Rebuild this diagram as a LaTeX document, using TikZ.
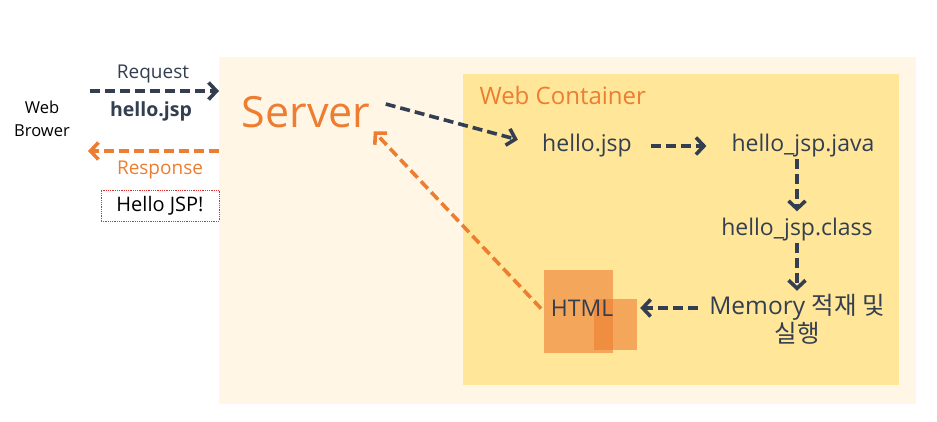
\documentclass[tikz,border=0pt]{standalone}
\usepackage{fontspec}
\setmainfont{Open Sans}
\newfontfamily\kr{Noto Sans CJK KR}
\usetikzlibrary{arrows.meta}
\definecolor{navyline}{RGB}{51,63,80}
\definecolor{orangeline}{RGB}{237,125,49}
\definecolor{serverbg}{RGB}{255,246,229}
\definecolor{containerbg}{RGB}{255,230,153}
\definecolor{dotred}{RGB}{224,48,48}

\begin{document}
\begin{tikzpicture}[
  x=1pt, y=-1pt,
  flow/.style={dash pattern=on 10pt off 5pt, line width=3.6pt, -{Straight Barb[length=8pt,width=17pt]}}, % dashed flow
  darkflow/.style={flow, draw=navyline},
  orangeflow/.style={flow, draw=orangeline},
  label/.style={inner sep=1pt, text=navyline, font=\fontsize{23}{28}\selectfont},
  square/.style={fill=orangeline, fill opacity=0.6, inner sep=0pt},
  every node/.style={align=center}
]
\useasboundingbox (0,0) rectangle (937,421);

% Boxes
\fill[serverbg] (219,57) rectangle (916,404);
\fill[containerbg] (463,74) rectangle (899,385);

% Browser side
\node[font=\fontsize{16.5}{23}\selectfont] (browser) at (42,119) {Web\\Brower};
\coordinate (reqstart) at (90,91);
\coordinate (reqend) at (219,91);
\coordinate (resstart) at (219,151);
\coordinate (resend) at (88,151);
\draw[darkflow] (reqstart) -- (reqend);
\node[text=navyline, font=\fontsize{19}{22}\selectfont] (req) at (153,74) {Request};
\node[text=navyline, font=\fontsize{19.5}{22}\selectfont\bfseries] (reqfile) at (151,111) {hello.jsp};
\draw[orangeflow] (resstart) -- (resend);
\node[text=orangeline, font=\fontsize{19}{22}\selectfont] (res) at (160,170) {Response};
\node[draw=dotred, densely dotted, line width=0.8pt, minimum width=118pt, minimum height=31pt,
  font=\fontsize{20}{22}\selectfont] (hello) at (160,205.5) {Hello JSP!};

% Server
\node[text=orangeline, font=\fontsize{43}{48}\selectfont] (server) at (306,112) {Server};
\node[text=orangeline, font=\fontsize{24}{28}\selectfont, anchor=west] (container) at (476,95) {Web Container};

% HTML squares
\node[square, minimum width=69pt, minimum height=83pt] (bigsq) at (578.5,311.5) {};
\node[square, minimum width=43pt, minimum height=51pt] (smallsq) at (615.5,324.5) {};

% Steps
\node[label] (jsp) at (587,146) {hello.jsp};
\node[label] (java) at (803,146) {hello\_jsp.java};
\node[label] (class) at (797,230) {hello\_jsp.class};
\node[label, font=\fontsize{24.5}{28}\selectfont] (memory) at (797,319) {Memory {\kr 적재 및}\\{\kr 실행}};
\node[label] (html) at (582,308) {HTML};

% Connectors
\draw[darkflow, shorten >=24pt] ([xshift=12pt,yshift=8pt]server.east) -- (jsp.west);
\draw[darkflow, shorten <=18pt, shorten >=24pt] (jsp.east) -- (java.west);
\draw[darkflow, shorten >=6pt] (class.north |- java.south) -- (class.north);
\draw[darkflow, shorten >=2pt] (class.south) -- (memory.north);
\draw[darkflow, shorten <=10pt, shorten >=3pt] (memory.west |- html) -- (smallsq.east |- html);
\draw[orangeflow, shorten <=4pt] (bigsq.west) -- (server.south east);
\end{tikzpicture}
\end{document}
